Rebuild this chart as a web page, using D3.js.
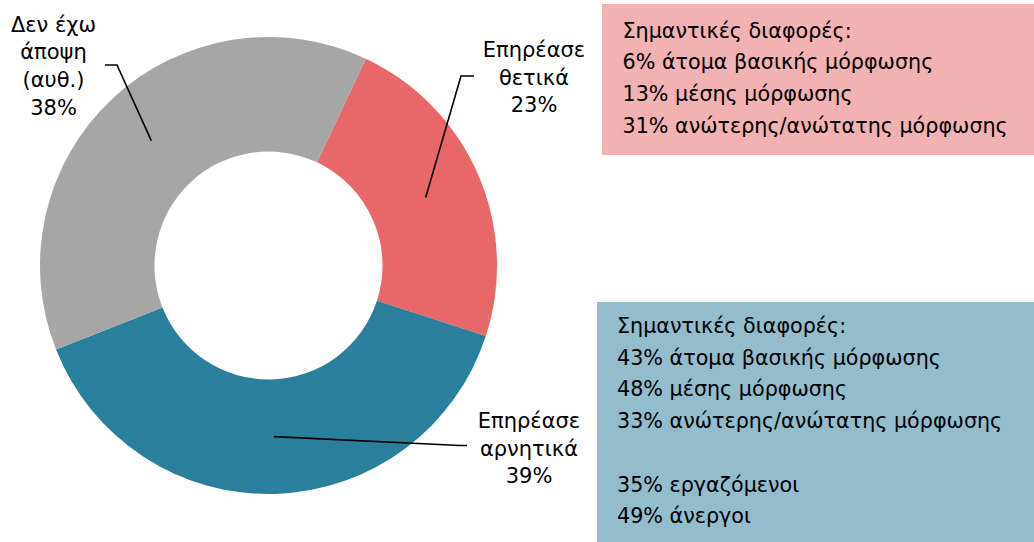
<!DOCTYPE html>
<html>
  <head>
    <meta charset="utf-8">
    <title>donut</title>
    <style>
      body { margin: 0; background: #fff; }
      text { font-family: "DejaVu Sans", sans-serif; fill: #000; }
    </style>
  </head>
  <body>
    <script src="https://cdn.jsdelivr.net/npm/d3@7"></script>
    <script>
      var w = 1034, h = 542;

      // data
      var categories = ["Επηρέασε θετικά", "Επηρέασε αρνητικά", "Δεν έχω άποψη (αυθ.)"];
      var values = [23, 39, 38];
      var colors = ["#e8686a", "#2a7f9c", "#a6a6a6"];
      var labelLines = [["Επηρέασε", "θετικά"], ["Επηρέασε", "αρνητικά"], ["Δεν έχω", "άποψη", "(αυθ.)"]];
      var pinkNotes = ["Σημαντικές διαφορές:", "6% άτομα βασικής μόρφωσης", "13% μέσης μόρφωσης", "31% ανώτερης/ανώτατης μόρφωσης"];
      var blueNotes = ["Σημαντικές διαφορές:", "43% άτομα βασικής μόρφωσης", "48% μέσης μόρφωσης", "33% ανώτερης/ανώτατης μόρφωσης", "", "35% εργαζόμενοι", "49% άνεργοι"];

      // layout
      var cx = 268.5, cy = 265.5, rOut = 228.5, rIn = 114;
      var startDeg = 25.2;
      // label text centre x, first baseline y, elbow point of leader line
      var labelLayout = [
        {x: 534, y: 57, elbow: [461, 76], end: [474, 76]},
        {x: 529, y: 428, elbow: [460, 445.5], end: [467, 445.5]},
        {x: 53.5, y: 31.5, elbow: [117, 65], end: [105, 65]}
      ];

      var svg = d3.select('body').append('svg').attr('width', w).attr('height', h);

      var pie = d3.pie().sort(null).value(function(d){ return d; })
        .startAngle(startDeg * Math.PI / 180)
        .endAngle(startDeg * Math.PI / 180 + 2 * Math.PI);
      var arc = d3.arc().innerRadius(rIn).outerRadius(rOut);
      var arcs = pie(values);

      var g = svg.append('g').attr('transform', 'translate(' + cx + ',' + cy + ')');
      g.selectAll('path').data(arcs).enter().append('path')
        .attr('d', arc)
        .attr('fill', function(d, i){ return colors[i]; });

      // leader lines
      arcs.forEach(function(d, i) {
        var c = arc.centroid(d);
        var L = labelLayout[i];
        svg.append('polyline')
          .attr('points', [[cx + c[0], cy + c[1]], L.elbow, L.end].map(function(p){ return p.join(','); }).join(' '))
          .attr('fill', 'none').attr('stroke', '#000').attr('stroke-width', 1.6);
      });

      // labels
      arcs.forEach(function(d, i) {
        var L = labelLayout[i];
        var lines = labelLines[i].concat([values[i] + '%']);
        var t = svg.append('text').attr('text-anchor', 'middle').style('font-size', '21px');
        lines.forEach(function(s, k) {
          t.append('tspan').attr('x', L.x).attr('y', L.y + k * 27.7).text(s);
        });
      });

      // note boxes
      function noteBox(x, y, bw, bh, fill, notes, tx, ty) {
        svg.append('rect').attr('x', x).attr('y', y).attr('width', bw).attr('height', bh).attr('fill', fill);
        var t = svg.append('text').style('font-size', '20.7px');
        notes.forEach(function(s, k) {
          t.append('tspan').attr('x', tx).attr('y', ty + k * 31.7).text(s);
        });
      }
      noteBox(602, 4, 432, 151, "#f2b2b3", pinkNotes, 622.5, 37.5);
      noteBox(597, 302, 437, 240, "#93bccd", blueNotes, 617, 333);
    </script>
  </body>
</html>
